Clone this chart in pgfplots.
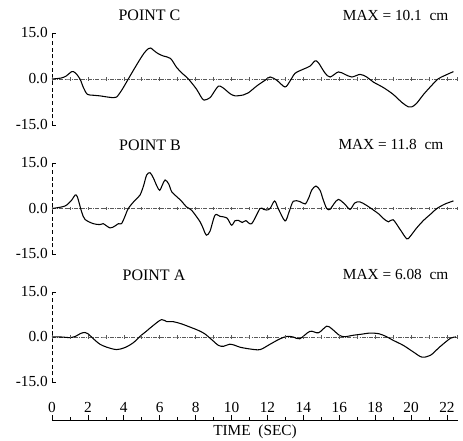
\documentclass[border=0pt]{standalone}
\usepackage{fontspec}
\setmainfont{Liberation Serif}
\usepackage{pgfplots}
\pgfplotsset{compat=1.18}

% one panel of the record: y from -15 to 15, time axis hidden
\pgfplotsset{
  panel/.style={
    scale only axis, width=304.3pt,
    xmin=0, xmax=22.6, ymin=-15, ymax=15,
    axis x line=none, axis y line=left,
    y axis line style={-, densely dashed, line width=0.5pt},
    ytick={-15,0,15}, yticklabels={-15.0,0.0,15.0},
    tick align=inside, major tick length=3pt,
    tick style={black, solid, line width=0.5pt},
    yticklabel style={font=\fontsize{11.5}{11.5}\selectfont, inner sep=1pt, xshift=-2pt},
    clip=false, anchor=south west,
  },
  rec/.style={black, line width=0.8pt, smooth, tension=0.5, mark=none},
  zero/.style={gray!70!black, densely dashdotted, line width=0.4pt, mark=|, mark size=1.2pt, mark options={solid}},
}

\begin{document}
\begin{tikzpicture}
\useasboundingbox (0pt,0pt) rectangle (347.25pt,330.75pt);

% POINT C
\begin{axis}[panel, height=69pt, at={(39pt,237pt)}]
\addplot[zero] coordinates {(0,0)(1,0)(2,0)(3,0)(4,0)(5,0)(6,0)(7,0)(8,0)(9,0)(10,0)(11,0)(12,0)(13,0)(14,0)(15,0)(16,0)(17,0)(18,0)(19,0)(20,0)(21,0)(22,0)(22.6,0)};
\addplot[rec] coordinates {(0,0)(0.5,0.3)(0.8,1.0)(1.1,2.4)(1.3,2.0)(1.56,0)(1.75,-2.8)(1.97,-5.0)(2.3,-5.3)(2.67,-5.5)(3.0,-5.8)(3.42,-6.1)(3.6,-5.9)(3.9,-3.5)(4.25,0)(4.6,3.5)(4.9,6.4)(5.15,8.6)(5.37,9.9)(5.5,10.1)(5.65,9.4)(5.9,8.3)(6.2,7.5)(6.6,6.7)(6.95,3.7)(7.3,1.6)(7.6,0)(8.06,-3.4)(8.3,-5.8)(8.47,-6.9)(8.8,-6.1)(9.05,-4.0)(9.27,-2.3)(9.45,-2.6)(9.64,-3.4)(9.92,-4.8)(10.2,-5.5)(10.66,-5.2)(10.94,-4.5)(11.4,-2.3)(11.87,-0.4)(12.15,0.65)(12.52,-0.4)(12.98,-2.6)(13.26,-0.65)(13.54,1.85)(14.0,3.2)(14.37,4.2)(14.65,5.9)(14.84,5.3)(15.2,2.0)(15.49,0.65)(15.95,2.3)(16.32,1.5)(16.7,0.65)(17.16,1.5)(17.53,0.65)(17.9,-1.0)(18.46,-2.8)(19.0,-5.0)(19.5,-7.7)(19.85,-9.1)(20.04,-9.1)(20.3,-8.0)(20.7,-5.0)(21.1,-2.4)(21.5,0)(21.9,1.2)(22.36,2.4)};
\end{axis}

% POINT B
\begin{axis}[panel, height=68.25pt, at={(39pt,140.25pt)}]
\addplot[zero] coordinates {(0,0)(1,0)(2,0)(3,0)(4,0)(5,0)(6,0)(7,0)(8,0)(9,0)(10,0)(11,0)(12,0)(13,0)(14,0)(15,0)(16,0)(17,0)(18,0)(19,0)(20,0)(21,0)(22,0)(22.6,0)};
\addplot[rec] coordinates {(0,0)(0.72,0.8)(1.1,2.8)(1.28,4.4)(1.41,3.9)(1.65,-1.1)(1.84,-3.6)(2.3,-5.0)(2.67,-5.3)(2.85,-5.0)(3.23,-6.4)(3.5,-5.8)(3.7,-5.0)(3.87,-5.0)(4.05,-2.8)(4.25,0)(4.62,2.7)(4.9,4.4)(5.1,7.5)(5.27,11)(5.46,11.8)(5.65,10)(5.85,7.3)(6.0,6.0)(6.15,7.8)(6.3,9.4)(6.5,8.1)(6.67,5.5)(6.95,3.9)(7.2,2.5)(7.5,0.5)(7.78,-0.6)(8.25,-4.4)(8.45,-7.0)(8.6,-8.8)(8.8,-7.5)(9.08,-2.2)(9.36,-2.6)(9.74,-3.1)(10.0,-5.5)(10.2,-4.0)(10.38,-3.9)(10.6,-4.6)(10.8,-4.0)(11.12,-5.0)(11.59,0)(11.78,-0.3)(11.96,-0.5)(12.15,0)(12.4,2.5)(12.6,0)(12.98,-4.1)(13.2,-1.2)(13.44,2.4)(13.8,2.3)(14.1,1.5)(14.3,3.5)(14.47,6.1)(14.7,7.4)(14.93,6.0)(15.1,3.0)(15.3,0)(15.48,-0.3)(15.7,1.5)(15.95,3.0)(16.3,1.5)(16.6,-0.3)(16.86,1.8)(17.14,2.2)(17.5,1.1)(17.9,-0.5)(18.2,-1.8)(18.46,-3.3)(18.74,-4.4)(19.0,-3.7)(19.4,-7.0)(19.76,-10.0)(19.95,-9.2)(20.3,-6.5)(20.7,-3.9)(21.1,-1.8)(21.44,0)(21.9,1.5)(22.36,2.5)};
\end{axis}

% POINT A
\begin{axis}[panel, height=67.5pt, at={(39pt,44.25pt)}]
\addplot[zero] coordinates {(0,0)(1,0)(2,0)(3,0)(4,0)(5,0)(6,0)(7,0)(8,0)(9,0)(10,0)(11,0)(12,0)(13,0)(14,0)(15,0)(16,0)(17,0)(18,0)(19,0)(20,0)(21,0)(22,0)(22.6,0)};
\addplot[rec] coordinates {(0,0)(0.5,0)(1.0,-0.2)(1.3,0.2)(1.6,1.2)(1.84,1.5)(2.0,1.1)(2.4,-1.1)(2.67,-2.4)(3.05,-3.4)(3.6,-4.2)(4.07,-3.5)(4.53,-1.9)(4.9,0.2)(5.27,2.0)(5.65,3.9)(6.1,5.8)(6.4,5.1)(6.76,5.1)(7.2,4.4)(7.69,3.3)(8.15,2.2)(8.5,1.1)(8.9,-0.9)(9.27,-2.8)(9.55,-3.1)(9.9,-2.4)(10.2,-2.8)(10.47,-3.4)(11.03,-4.0)(11.59,-4.2)(12.15,-2.4)(12.7,-0.6)(13.1,0.2)(13.44,0)(13.8,-0.6)(14.37,1.9)(14.84,1.4)(15.3,3.6)(15.57,2.8)(16.0,0.6)(16.3,0.1)(16.8,0.6)(17.2,0.9)(17.7,1.3)(18.2,1.1)(18.6,0.2)(19.0,-1.1)(19.57,-2.8)(20.13,-5.0)(20.6,-6.7)(21.08,-6.1)(21.6,-3.3)(22.2,-0.4)(22.5,0)};
\end{axis}

% time axis, numbers above the line
\begin{axis}[scale only axis, width=304.3pt, height=10pt,
  at={(39pt,15.75pt)}, anchor=south west,
  xmin=0, xmax=22.6, ymin=0, ymax=1,
  axis y line=none, axis x line=bottom,
  x axis line style={-, line width=0.6pt},
  xtick={0,2,...,22}, minor xtick={1,3,...,21},
  tick align=inside, major tick length=4pt, minor tick length=2.5pt,
  tick style={black, line width=0.5pt},
  xticklabel style={anchor=south, yshift=2pt, font=\fontsize{11.5}{11.5}\selectfont},
  /pgf/number format/assume math mode=true]
\end{axis}

\node[font=\fontsize{11.5}{11.5}\selectfont] at (191.25pt,6.75pt) {TIME\ \ (SEC)};

\node[font=\fontsize{12}{12}\selectfont] at (112.1pt,319.5pt) {POINT C};
\node[font=\fontsize{11.5}{11.5}\selectfont, anchor=east] at (339.75pt,318.75pt) {MAX = 10.1\ \ cm};
\node[font=\fontsize{12}{12}\selectfont] at (112.5pt,222pt) {POINT B};
\node[font=\fontsize{11.5}{11.5}\selectfont, anchor=east] at (336pt,222pt) {MAX = 11.8\ \ cm};
\node[font=\fontsize{12}{12}\selectfont] at (115.5pt,124.5pt) {POINT A};
\node[font=\fontsize{11.5}{11.5}\selectfont, anchor=east] at (339.75pt,124.5pt) {MAX = 6.08\ \ cm};
\end{tikzpicture}
\end{document}
